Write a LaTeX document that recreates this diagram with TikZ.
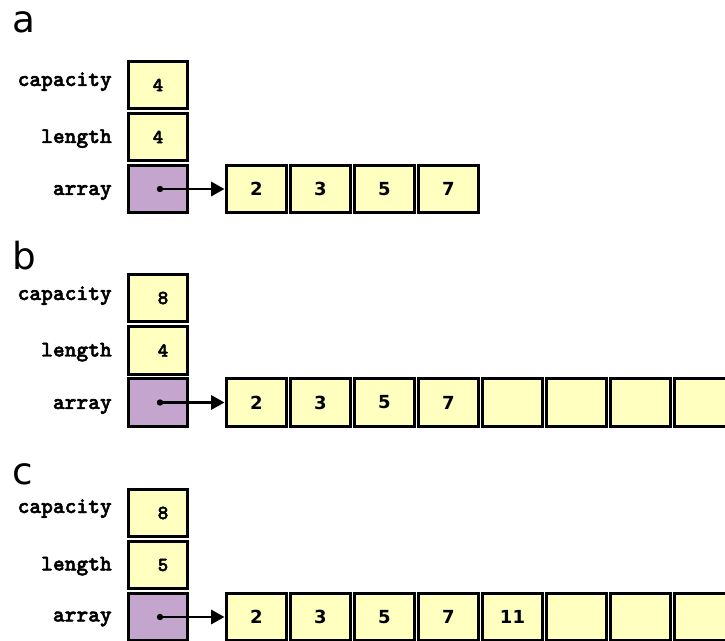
\documentclass[tikz,border=0pt]{standalone}
\usepackage{fontspec}
\setmainfont{DejaVu Sans}
\newfontfamily\lmono{lmmonolt10-bold}[Extension=.otf, FakeBold=2.2]
\usetikzlibrary{arrows.meta}
\definecolor{cellyellow}{RGB}{255,255,192}
\definecolor{ptrpurple}{RGB}{195,165,206}
\tikzset{
  boxbase/.style={draw=black, line width=2.25pt, inner sep=0pt, minimum height=35.6pt},
  cellbox/.style={boxbase, fill=cellyellow, minimum width=45.7pt,
    font=\fontsize{13.5pt}{15pt}\selectfont\bfseries},
  colbox/.style={boxbase, fill=cellyellow, minimum width=44.25pt},
  ptrbox/.style={boxbase, fill=ptrpurple, minimum width=44.25pt},
  monov/.style={inner sep=0pt, font=\fontsize{15pt}{17pt}\selectfont\lmono},
  lbl/.style={anchor=base east, inner sep=0pt, font=\fontsize{16.8pt}{18pt}\selectfont\lmono},
  sect/.style={anchor=base west, inner sep=0pt, font=\fontsize{28pt}{30pt}\selectfont},
  ptr/.style={line width=2.1pt, -{Triangle[length=10pt,width=10.5pt]}},
  dotmark/.style={fill=black}
}
\begin{document}
\begin{tikzpicture}[x=0.75pt,y=-0.75pt]
\clip (0,0) rectangle (725,641);
% ---------------- a ----------------
\node[sect] (seca) at (12,33) {a};
\node[colbox] (acap) at (158,85) {};
\node[colbox] (alen) at (158,137) {};
\node[ptrbox] (aarr) at (158,189) {};
\node[monov] (acapv) at (acap) {4};
\node[monov] (alenv) at (alen) {4};
\node[lbl] (acapl) at (112,86) {capacity};
\node[lbl] (alenl) at (112,143) {length};
\node[lbl] (aarrl) at (112,195) {array};
\foreach \v [count=\i] in {2,3,5,7}
  \node[cellbox] (a\i) at ({256.5+64*(\i-1)},189) {\v};
\coordinate (adot) at (160,189);
\fill[dotmark] (adot) circle[radius=2.4pt];
\draw[ptr] (adot) -- (a1.west);
% ---------------- b ----------------
\node[sect] (secb) at (12,270) {b};
\node[colbox] (bcap) at (158,298) {};
\node[colbox] (blen) at (158,350.5) {};
\node[ptrbox] (barr) at (158,402.5) {};
\node[monov, xshift=3.75pt] (bcapv) at (bcap) {8};
\node[monov, xshift=3.75pt] (blenv) at (blen) {4};
\node[lbl] (bcapl) at (112,300) {capacity};
\node[lbl] (blenl) at (112,356.5) {length};
\node[lbl] (barrl) at (112,409) {array};
\foreach \v [count=\i] in {2,3,5,7,{},{},{},{}}
  \node[cellbox] (b\i) at ({256.5+64*(\i-1)},402.5) {\v};
\coordinate (bdot) at (160,402.5);
\fill[dotmark] (bdot) circle[radius=2.4pt];
\draw[ptr] (bdot) -- (b1.west);
% ---------------- c ----------------
\node[sect] (secc) at (12,484) {c};
\node[colbox] (ccap) at (158,513) {};
\node[colbox] (clen) at (158,565) {};
\node[ptrbox] (carr) at (158,617) {};
\node[monov, xshift=3.75pt] (ccapv) at (ccap) {8};
\node[monov, xshift=3.75pt] (clenv) at (clen) {5};
\node[lbl] (ccapl) at (112,513) {capacity};
\node[lbl] (clenl) at (112,570.5) {length};
\node[lbl] (carrl) at (112,621.5) {array};
\foreach \v [count=\i] in {2,3,5,7,11,{},{},{}}
  \node[cellbox] (c\i) at ({256.5+64*(\i-1)},617) {\v};
\coordinate (cdot) at (160,617);
\fill[dotmark] (cdot) circle[radius=2.4pt];
\draw[ptr] (cdot) -- (c1.west);
\end{tikzpicture}
\end{document}
